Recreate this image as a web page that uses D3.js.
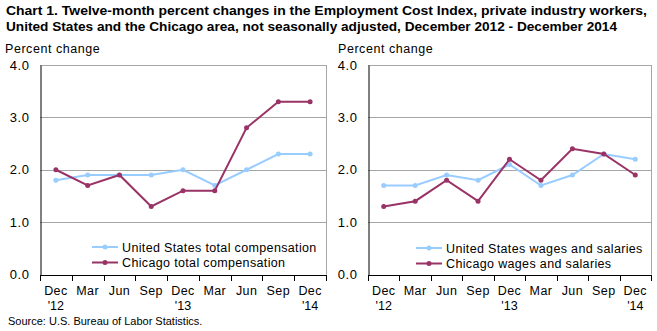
<!DOCTYPE html>
<html>
<head>
<meta charset="utf-8">
<script src="https://cdn.jsdelivr.net/npm/d3@7"></script>
<style>
  body { margin: 0; background: #fff; }
  svg { display: block; font-family: Arial, "Liberation Sans", sans-serif; }
</style>
</head>
<body>
<svg id="chart" width="657" height="331"></svg>
<script>
// Quarterly reference periods
const quarters = ["Dec '12", "Mar", "Jun", "Sep", "Dec '13", "Mar", "Jun", "Sep", "Dec '14"];
const monthLabels = ["Dec", "Mar", "Jun", "Sep", "Dec", "Mar", "Jun", "Sep", "Dec"];
const yearLabels = ["'12", "", "", "", "'13", "", "", "", "'14"];
const yTicks = [0, 1, 2, 3, 4];

// Total compensation, 12-month percent change
const usTotal = [1.8, 1.9, 1.9, 1.9, 2.0, 1.7, 2.0, 2.3, 2.3];
const chicagoTotal = [2.0, 1.7, 1.9, 1.3, 1.6, 1.6, 2.8, 3.3, 3.3];

// Wages and salaries, 12-month percent change
const usWages = [1.7, 1.7, 1.9, 1.8, 2.1, 1.7, 1.9, 2.3, 2.2];
const chicagoWages = [1.3, 1.4, 1.8, 1.4, 2.2, 1.8, 2.4, 2.3, 1.9];

const titleLines = [
  "Chart 1. Twelve-month percent changes in the Employment Cost  Index, private industry workers,",
  "United States and the Chicago area, not seasonally adjusted, December 2012  - December 2014"
];

const US_COLOR = "#99ccff";
const CHI_COLOR = "#993366";

const svg = d3.select("#chart");

// Title
const title = svg.append("g").attr("font-weight", "bold").attr("font-size", 13)
  .attr("font-family", "'Liberation Sans Narrow', 'Arial Narrow', Arial, sans-serif");
title.append("text").attr("x", 6).attr("y", 15).text(titleLines[0])
  .attr("textLength", 641).attr("lengthAdjust", "spacingAndGlyphs");
title.append("text").attr("x", 6).attr("y", 31).text(titleLines[1])
  .attr("textLength", 611).attr("lengthAdjust", "spacingAndGlyphs");

function panel(cfg) {
  const g = svg.append("g");
  const x = d3.scaleBand().domain(d3.range(quarters.length)).range([cfg.left, cfg.right]);
  const y = d3.scaleLinear().domain([0, 4]).range([cfg.bottom, cfg.top]);

  g.append("text").attr("x", cfg.labelX).attr("y", 53).attr("font-size", 12.5)
    .attr("letter-spacing", 0.55).attr("fill", "#000").text("Percent change");

  // Horizontal gridlines
  g.append("g").selectAll("line").data(yTicks.slice(1)).join("line")
    .attr("x1", cfg.left).attr("x2", cfg.right)
    .attr("y1", d => Math.round(y(d)) + 0.5).attr("y2", d => Math.round(y(d)) + 0.5)
    .attr("stroke", "#a6a6a6").attr("stroke-width", 1);

  // Right border of plot area
  g.append("line").attr("x1", cfg.right + 0.5).attr("x2", cfg.right + 0.5)
    .attr("y1", y(4)).attr("y2", y(0)).attr("stroke", "#a6a6a6");

  // Y axis
  const yAxis = d3.axisLeft(y).tickValues(yTicks).tickFormat(d3.format(".1f")).tickSize(0).tickPadding(11);
  const ya = g.append("g").attr("transform", `translate(${cfg.left + 0.5},0)`).call(yAxis);
  ya.select(".domain").attr("stroke", "#000");
  ya.selectAll("text").attr("font-size", 13).attr("letter-spacing", 0.6)
    .attr("fill", "#000").attr("font-family", "Arial, sans-serif");

  // X axis: ticks at band boundaries
  const bounds = d3.range(quarters.length + 1).map(i => cfg.left + i * x.step());
  const xa = g.append("g");
  xa.append("line").attr("x1", cfg.left).attr("x2", cfg.right + 1)
    .attr("y1", Math.round(y(0)) + 0.5).attr("y2", Math.round(y(0)) + 0.5).attr("stroke", "#000");
  xa.selectAll("line.tick").data(bounds).join("line").attr("class", "tick")
    .attr("x1", d => Math.round(d) + 0.5).attr("x2", d => Math.round(d) + 0.5)
    .attr("y1", Math.round(y(0))).attr("y2", Math.round(y(0)) + 6).attr("stroke", "#000");
  xa.selectAll("text.m").data(monthLabels).join("text").attr("class", "m")
    .attr("x", (d, i) => x(i) + x.bandwidth() / 2).attr("y", 295)
    .attr("text-anchor", "middle").attr("font-size", 12.5).attr("letter-spacing", 0.4).text(d => d);
  xa.selectAll("text.yr").data(yearLabels).join("text").attr("class", "yr")
    .attr("x", (d, i) => x(i) + x.bandwidth() / 2).attr("y", 310)
    .attr("text-anchor", "middle").attr("font-size", 12.5).text(d => d);

  const line = d3.line().x((d, i) => x(i) + x.bandwidth() / 2).y(d => y(d));
  cfg.series.forEach(s => {
    g.append("path").datum(s.values).attr("d", line)
      .attr("fill", "none").attr("stroke", s.color).attr("stroke-width", 2);
    g.append("g").selectAll("circle").data(s.values).join("circle")
      .attr("cx", (d, i) => x(i) + x.bandwidth() / 2).attr("cy", d => y(d))
      .attr("r", 2.5).attr("fill", s.color);
  });

  // Legend
  cfg.series.forEach((s, i) => {
    const ly = cfg.legendY + i * 15.5;
    g.append("line").attr("x1", cfg.legendX).attr("x2", cfg.legendX + 26)
      .attr("y1", ly).attr("y2", ly).attr("stroke", s.color).attr("stroke-width", 2);
    g.append("circle").attr("cx", cfg.legendX + 13).attr("cy", ly).attr("r", 2.5).attr("fill", s.color);
    g.append("text").attr("x", cfg.legendX + 30).attr("y", ly + 4.5).attr("font-size", 12.5)
      .attr("letter-spacing", 0.35).text(s.name);
  });
}

panel({
  left: 40, right: 326, top: 65, bottom: 274.5, labelX: 5,
  legendX: 92, legendY: 247,
  series: [
    { name: "United States total compensation", values: usTotal, color: US_COLOR },
    { name: "Chicago total compensation", values: chicagoTotal, color: CHI_COLOR }
  ]
});

panel({
  left: 368, right: 651, top: 65, bottom: 274.5, labelX: 338,
  legendX: 416, legendY: 248,
  series: [
    { name: "United States wages and salaries", values: usWages, color: US_COLOR },
    { name: "Chicago wages and salaries", values: chicagoWages, color: CHI_COLOR }
  ]
});

svg.append("text").attr("x", 8).attr("y", 325).attr("font-size", 11).text("Source: U.S. Bureau of Labor Statistics.");
</script>
</body>
</html>
